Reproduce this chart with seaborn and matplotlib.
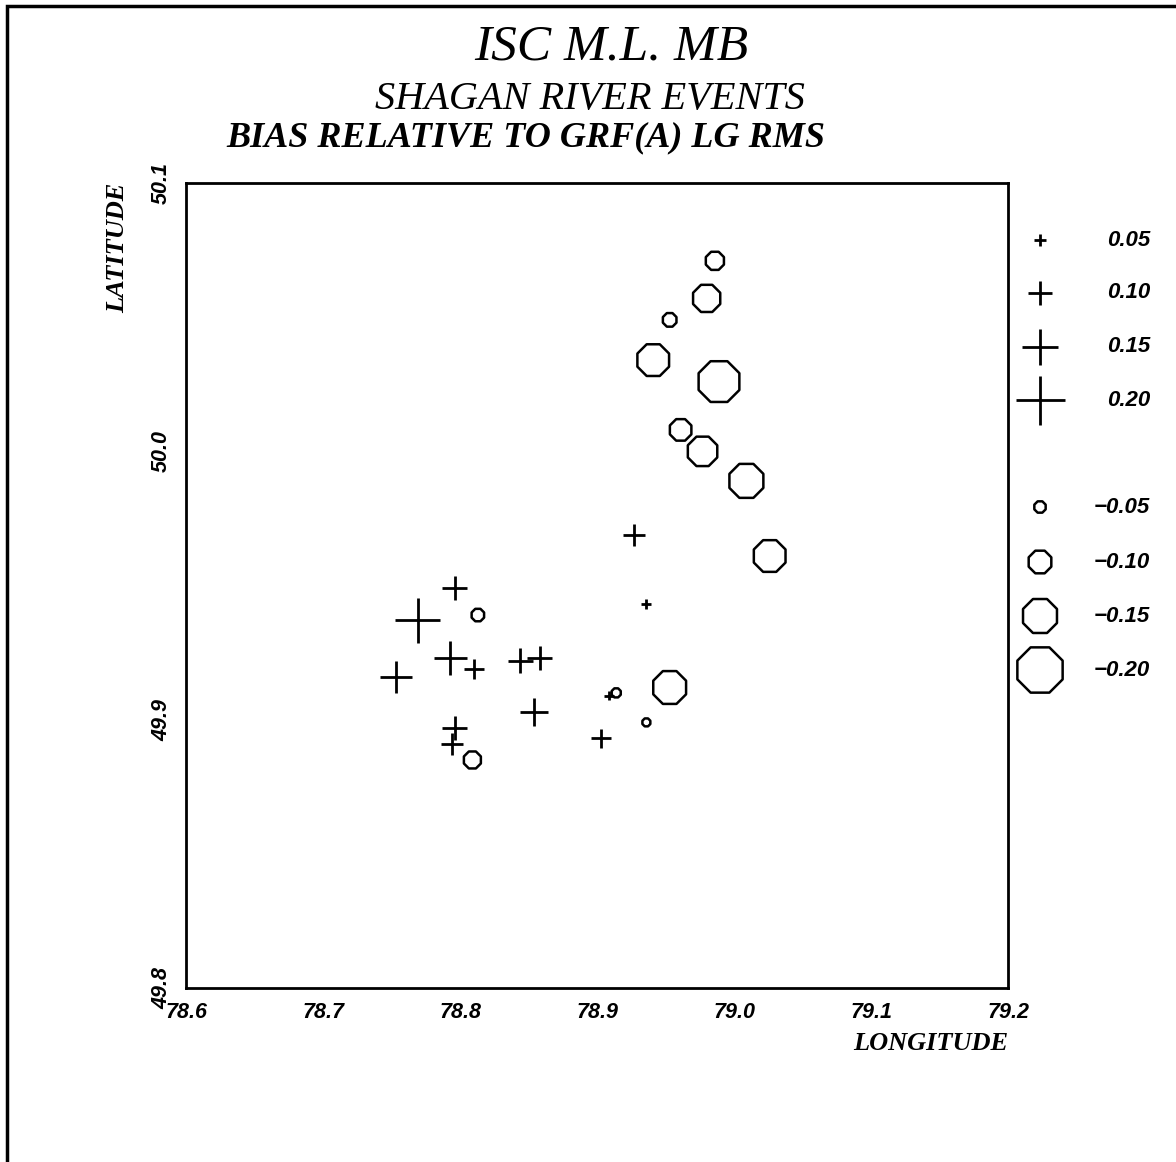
import matplotlib.pyplot as plt
import numpy as np
import pandas as pd
import seaborn as sns
from matplotlib.patches import Rectangle

# events with positive bias (drawn as +)
lon_pos = [78.927, 78.936, 78.796, 78.769, 78.793, 78.810, 78.753,
           78.844, 78.858, 78.854, 78.796, 78.794, 78.903, 78.909]
lat_pos = [49.969, 49.943, 49.949, 49.937, 49.923, 49.919, 49.916,
           49.922, 49.923, 49.903, 49.897, 49.891, 49.893, 49.909]
bias_pos = [0.09, 0.04, 0.10, 0.185, 0.135, 0.08, 0.13,
            0.10, 0.10, 0.115, 0.10, 0.09, 0.08, 0.04]

# events with negative bias (drawn as octagons)
lon_neg = [78.986, 78.980, 78.953, 78.941, 78.989, 78.961, 78.977,
           79.009, 79.026, 78.953, 78.813, 78.914, 78.936, 78.809]
lat_neg = [50.071, 50.057, 50.049, 50.034, 50.026, 50.008, 50.000,
           49.989, 49.961, 49.912, 49.939, 49.910, 49.899, 49.885]
bias_neg = [-0.08, -0.12, -0.06, -0.14, -0.18, -0.095, -0.13,
            -0.15, -0.14, -0.145, -0.055, -0.04, -0.035, -0.075]

legend_pos = [0.05, 0.10, 0.15, 0.20]
legend_neg = [-0.05, -0.10, -0.15, -0.20]

x_ticks = [78.6, 78.7, 78.8, 78.9, 79.0, 79.1, 79.2]
y_ticks = [49.8, 49.9, 50.0, 50.1]

df_pos = pd.DataFrame({"lon": lon_pos, "lat": lat_pos, "bias": bias_pos})
df_neg = pd.DataFrame({"lon": lon_neg, "lat": lat_neg, "bias": bias_neg})


def area(b):
    # marker diameter grows linearly with |bias|; scatter wants pt^2
    d = 245 * np.abs(np.asarray(b)) * 72 / 100
    return d ** 2


sns.set_style("white")
plt.rcParams["font.family"] = ["Liberation Serif", "DejaVu Serif"]
plt.rcParams["text.color"] = "black"

fig = plt.figure(figsize=(11.76, 11.62), dpi=100)
ax = fig.add_axes([0.1582, 0.1497, 0.699, 0.6928])

sns.scatterplot(data=df_pos, x="lon", y="lat", marker="+", s=area(df_pos["bias"]),
                color="black", linewidth=2.0, legend=False, ax=ax)
sns.scatterplot(data=df_neg, x="lon", y="lat", marker="8", s=area(df_neg["bias"]),
                facecolor="none", edgecolor="black", linewidth=1.8, legend=False, ax=ax)

ax.set_xlim(78.6, 79.2)
ax.set_ylim(49.8, 50.1)
ax.set_xticks(x_ticks)
ax.set_xticklabels([f"{t:.1f}" for t in x_ticks])
ax.set_yticks(y_ticks)
ax.set_yticklabels([f"{t:.1f}" for t in y_ticks], rotation=90, va="center")
ax.tick_params(direction="out", length=8, width=1.5, labelsize=15.5, pad=2, colors="black")
for lbl in ax.get_xticklabels() + ax.get_yticklabels():
    lbl.set_family("Liberation Sans")
    lbl.set_fontstyle("italic")
    lbl.set_fontweight("bold")
for sp in ax.spines.values():
    sp.set_linewidth(2)
    sp.set_color("black")
ax.set_xlabel("")
ax.set_ylabel("")

ax.text(1.0, -0.055, "LONGITUDE", transform=ax.transAxes, ha="right", va="top",
        fontsize=19, fontstyle="italic", fontweight="bold")
ax.text(-0.083, 1.0, "LATITUDE", transform=ax.transAxes, ha="center", va="top",
        rotation=90, fontsize=19, fontstyle="italic", fontweight="bold")

# titles
fig.text(0.52, 1 - 47 / 1162, "ISC M.L. MB", ha="center", va="center",
         fontsize=37, fontstyle="italic")
fig.text(0.502, 1 - 99 / 1162, "SHAGAN RIVER EVENTS", ha="center", va="center",
         fontsize=29, fontstyle="italic")
fig.text(0.447, 1 - 138 / 1162, "BIAS RELATIVE TO GRF(A) LG RMS", ha="center", va="center",
         fontsize=26, fontstyle="italic", fontweight="bold")

# size legend on the right, in pixel-like coordinates
lax = fig.add_axes([1010 / 1176, 1 - 700 / 1162, 166 / 1176, 500 / 1162])
lax.set_xlim(1010, 1176)
lax.set_ylim(700, 200)
lax.axis("off")
rows_pos = [240, 293, 347, 400]
rows_neg = [507, 562, 616, 670]
sns.scatterplot(x=[1040] * 4, y=rows_pos, marker="+", s=area(legend_pos),
                color="black", linewidth=2.0, legend=False, ax=lax)
sns.scatterplot(x=[1040] * 4, y=rows_neg, marker="8", s=area(legend_neg),
                facecolor="none", edgecolor="black", linewidth=1.8, legend=False, ax=lax)
for v, r in zip(legend_pos + legend_neg, rows_pos + rows_neg):
    txt = f"{v:.2f}".replace("-", "\u2212")
    lax.text(1150, r, txt, ha="right", va="center", fontsize=16,
             family="Liberation Sans", fontstyle="italic", fontweight="bold")

fig.add_artist(Rectangle((0.006, -0.05), 1.1, 1.0448, transform=fig.transFigure,
                         fill=False, lw=2.5, edgecolor="black"))

fig.savefig("out.png", dpi=100)
